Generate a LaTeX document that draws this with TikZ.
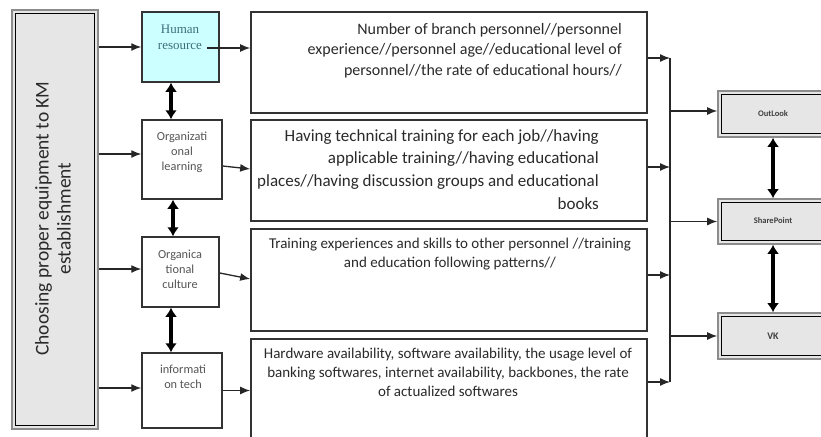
\documentclass[tikz,border=0pt]{standalone}
\usepackage{fontspec}
\setmainfont{Carlito}
\newfontfamily\serifx{Liberation Serif}
\usetikzlibrary{arrows.meta,calc}
\definecolor{boxgray}{HTML}{E6E6E6}
\definecolor{hrcyan}{HTML}{CCFFFF}
\definecolor{hrtext}{HTML}{3E6F7C}
\definecolor{txtgray}{HTML}{2A2A2A}
\definecolor{midgray}{HTML}{555555}
\begin{document}
\begin{tikzpicture}[x=1pt,y=-1pt,
  outerbox/.style={draw=black!45,line width=1.6pt,fill=boxgray,minimum width=#1,inner sep=0pt},
  midbox/.style={draw=black!80,line width=1.5pt,fill=white,inner sep=0pt},
  txtbox/.style={draw=black!80,line width=1.7pt,fill=white,inner sep=0pt},
  midtxt/.style={align=center,text=midgray,inner sep=0pt,font=\fontsize{12.3}{15}\selectfont},
  conn/.style={draw=black!85,line width=1.3pt,-{Latex[length=10pt,width=8pt]}},
  thickarr/.style={draw=black,line width=4pt,{Latex[length=9pt,width=12pt]}-{Latex[length=9pt,width=12pt]}},
  rlabel/.style={text=black!75,font=\bfseries\fontsize{8.5}{10}\selectfont,inner sep=0pt}]
\useasboundingbox (0,0) rectangle (821,436);
\clip (0,0) rectangle (821,436);

% left column: the overall goal
\node[outerbox=86pt,minimum height=419pt] (L) at (55,219.5) {};
\draw[black,line width=1.1pt] ([shift={(4,4)}]L.north west) rectangle ([shift={(-4,-4)}]L.south east);
\node[rotate=90,align=center,text=txtgray,inner sep=0pt,font=\fontsize{19.5}{22}\selectfont] (Lt) at (53,218.5)
  {Choosing proper equipment to KM\\establishment};

% middle column: the four factors
\node[midbox,fill=hrcyan,minimum width=77pt,minimum height=70pt] (hr) at (180.5,47) {};
\node[midbox,minimum width=80pt,minimum height=79pt] (ol) at (182,159.5) {};
\node[midbox,minimum width=77pt,minimum height=70pt] (oc) at (180.5,272) {};
\node[midbox,minimum width=80pt,minimum height=75pt] (it) at (182,390.5) {};
\node[align=center,text=hrtext,inner sep=0pt,font=\serifx\fontsize{13}{16}\selectfont] (hrt) at (180,37) {Human\\resource};
\node[midtxt] (olt) at (182,152) {Organizati\\onal\\learning};
\node[midtxt] (oct) at (180,269) {Organica\\tional\\culture};
\node[midtxt] (itt) at (183,377) {informati\\on tech};

% detail boxes
\node[txtbox,minimum width=396pt,minimum height=101pt] (T1) at (449,62.5) {};
\node[txtbox,minimum width=396pt,minimum height=101pt] (T2) at (449,170.5) {};
\node[txtbox,minimum width=396pt,minimum height=102pt] (T3) at (449,280) {};
\node[txtbox,minimum width=396pt,minimum height=106pt] (T4) at (449,392) {};
\node[anchor=north east,align=right,text=txtgray,inner sep=0pt,font=\fontsize{16}{20.5}\selectfont] (T1t) at (622,23)
  {Number of branch personnel//personnel\\experience//personnel age//educational level of\\personnel//the rate of educational hours//};
\node[anchor=north east,align=right,text=txtgray,inner sep=0pt,font=\fontsize{17}{22.7}\selectfont] (T2t) at (599,129)
  {Having technical training for each job//having\\applicable training//having educational\\places//having discussion groups and educational\\books};
\node[anchor=north,align=center,text=txtgray,inner sep=0pt,font=\fontsize{15}{19}\selectfont] (T3t) at (450,238)
  {Training experiences and skills to other personnel //training\\and education following patterns//};
\node[anchor=north,align=center,text=txtgray,inner sep=0pt,font=\fontsize{15}{19}\selectfont] (T4t) at (448,348)
  {Hardware availability, software availability, the usage level of\\banking softwares, internet availability, backbones, the rate\\of actualized softwares};

% tools on the right
\node[outerbox=112pt,minimum height=46pt] (R1) at (774,114) {};
\node[outerbox=112pt,minimum height=45pt] (R2) at (774,221.5) {};
\node[outerbox=112pt,minimum height=46pt] (R3) at (774,336) {};
\foreach \r in {R1,R2,R3}
  \draw[black,line width=1.1pt] ([shift={(4,4)}]\r.north west) rectangle ([shift={(-4,-4)}]\r.south east);
\node[rlabel] (R1t) at (773,114) {OutLook};
\node[rlabel] (R2t) at (773,221) {SharePoint};
\node[rlabel,font=\bfseries\fontsize{10}{12}\selectfont] (R3t) at (773,336) {VK};

% goal -> factors
\path ([yshift=5.5pt]ol.west) coordinate (olin);
\path ([yshift=3pt]oc.west) coordinate (ocin);
\path ([yshift=2.5pt]it.west) coordinate (itin);
\draw[conn] (L.east |- hr.west) -- (hr.west);
\draw[conn] (L.east |- olin) -- (olin);
\draw[conn] (L.east |- ocin) -- (ocin);
\draw[conn] (L.east |- itin) -- (itin);

% factors -> detail boxes
\coordinate (hrout) at (207,48);
\draw[conn] (hrout) -- (T1.west |- hrout);
\draw[conn] ([yshift=-6.5pt]ol.east) -- ([yshift=1.5pt]T2.west);
\draw[conn] ([yshift=-1pt]oc.east) -- ([yshift=1pt]T3.west);
\draw[conn] (it.east) -- (T4.west |- it.east);

% links between the factors
\draw[thickarr] ([xshift=-9.5pt]hr.south) -- ([xshift=-9.5pt]hr.south |- ol.north);
\draw[thickarr] ([xshift=-9pt]ol.south) -- ([xshift=-9pt]ol.south |- oc.north);
\draw[thickarr] ([xshift=-9.5pt]oc.south) -- ([xshift=-9.5pt]oc.south |- it.north);

% collecting bus and the tools
\coordinate (b1) at (670,58);
\coordinate (b2) at (670,167);
\coordinate (b3) at (670,275);
\coordinate (b4) at (670,382);
\draw[draw=black!85,line width=1.3pt] (b1) -- (b4);
\draw[conn] (T1.east |- b1) -- (b1);
\draw[conn] (T2.east |- b2) -- (b2);
\draw[conn] (T3.east |- b3) -- (b3);
\draw[conn] (T4.east |- b4) -- (b4);
\path ([yshift=3pt]R1.west) coordinate (r1in);
\draw[conn] (b1 |- r1in) -- (r1in);
\draw[conn] (b1 |- R2.west) -- (R2.west);
\draw[conn] (b1 |- R3.west) -- (R3.west);
\draw[thickarr] ([xshift=-1pt]R1.south) -- ([xshift=-1pt]R2.north);
\draw[thickarr] ([xshift=-1pt]R2.south) -- ([xshift=-1pt]R3.north);
\end{tikzpicture}
\end{document}
